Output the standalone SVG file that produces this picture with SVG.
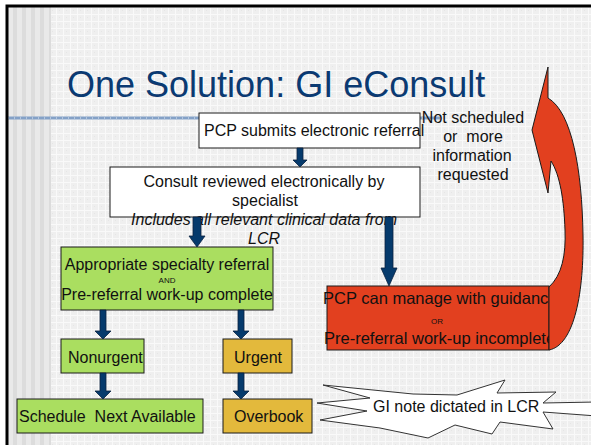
<svg xmlns="http://www.w3.org/2000/svg" width="591" height="445" viewBox="0 0 591 445">
<defs>
<pattern id="grid" width="7" height="7" patternUnits="userSpaceOnUse">
<rect width="7" height="7" fill="#efefef"/>
<rect x="0" y="0" width="7" height="1" fill="#f9f9f9"/>
<rect x="0" y="0" width="1" height="7" fill="#f9f9f9"/>
<rect x="3" y="3" width="1" height="1" fill="#e6e6e6"/>
</pattern>
<pattern id="stripes" width="9" height="10" patternUnits="userSpaceOnUse" x="8">
<rect width="9" height="10" fill="#e9e9e9"/>
<rect x="5" width="4" height="10" fill="#dcdcdc"/>
</pattern>
</defs>
<style>
.t{font-family:"Liberation Sans",Arial,sans-serif;font-size:16px;fill:#111}
.sm{font-family:"Liberation Sans",Arial,sans-serif;font-size:8px;fill:#111}
.box{stroke:#1a1a1a;stroke-width:1}
.white{fill:#ffffff}
.green{fill:#aade60}
.gold{fill:#e3b93c}
.red{fill:#e2401f}
.arr{fill:#053a6c;stroke:#0a2240;stroke-width:0.8}
</style>
<rect width="591" height="445" fill="#ffffff"/>
<rect x="8" y="6" width="583" height="439" fill="url(#grid)"/>
<rect x="8" y="6" width="43" height="439" fill="url(#stripes)"/>
<line x1="8" y1="118" x2="440" y2="118" stroke="#84a1c7" stroke-width="3"/>
<line x1="8" y1="118" x2="440" y2="118" stroke="#b3c6de" stroke-width="3" stroke-dasharray="1 5"/>
<path d="M7 445 V6 H591" fill="none" stroke="#000" stroke-width="3"/>
<text x="67" y="97" style="font-family:'Liberation Sans',Arial,sans-serif;font-size:36px;fill:#0b3a72">One Solution: GI eConsult</text>

<g id="n-submit">
<rect class="box white" x="199" y="113" width="221" height="35"/>
<text class="t" x="204" y="136">PCP submits electronic referral</text>
</g>
<g id="n-notsched">
<text class="t" text-anchor="middle" x="473" y="123">Not scheduled</text>
<text class="t" text-anchor="middle" x="473" y="142" xml:space="preserve">or  more</text>
<text class="t" text-anchor="middle" x="472" y="161">information</text>
<text class="t" text-anchor="middle" x="473" y="180">requested</text>
</g>
<g id="n-review">
<rect class="box white" x="110" y="167" width="310" height="50"/>
<text class="t" text-anchor="middle" x="264" y="187">Consult reviewed electronically by</text>
<text class="t" text-anchor="middle" x="265" y="206">specialist</text>
<text class="t" text-anchor="middle" x="264" y="225" font-style="italic">Includes all relevant clinical data from</text>
<text class="t" text-anchor="middle" x="264" y="244" font-style="italic">LCR</text>
</g>
<g id="n-appropriate">
<rect class="box green" x="61" y="247" width="212" height="63"/>
<text class="t" text-anchor="middle" x="167" y="270">Appropriate specialty referral</text>
<text class="sm" text-anchor="middle" x="167" y="283">AND</text>
<text class="t" text-anchor="middle" x="167" y="300">Pre-referral work-up complete</text>
</g>
<g id="n-manage">
<rect class="box red" x="327" y="286" width="222" height="64"/>
<text class="t" x="323" y="304" style="font-size:16.5px">PCP can manage with guidance</text>
<text class="sm" text-anchor="middle" x="437" y="324">OR</text>
<text class="t" x="324" y="344" style="font-size:16.5px">Pre-referral work-up incomplete</text>
</g>
<g id="n-nonurgent">
<rect class="box green" x="61" y="339" width="83" height="34"/>
<text class="t" x="68" y="363">Nonurgent</text>
</g>
<g id="n-urgent">
<rect class="box gold" x="223" y="339" width="69" height="34"/>
<text class="t" x="234" y="363">Urgent</text>
</g>
<g id="n-schedule">
<rect class="box green" x="17" y="399" width="186" height="34"/>
<text class="t" x="19" y="422" xml:space="preserve">Schedule  Next Available</text>
</g>
<g id="n-overbook">
<rect class="box gold" x="223" y="399" width="89" height="34"/>
<text class="t" x="234" y="422">Overbook</text>
</g>
<g id="n-ginote">
<polygon points="323,385 413,394 457,395 505,380 497,393 556,392 543,403 597,402 597,416 543,412 553,429 500,422 492,434 455,425 428,438 380,428 320,420 367,411 317,403 370,398" fill="#ffffff" stroke="#333" stroke-width="1"/>
<text class="t" x="373" y="412">GI note dictated in LCR</text>
</g>

<g id="connectors">
<path class="arr" d="M297 148 H303 V160 H307 L300 167 L293 160 H297 Z"/>
<path class="arr" d="M193 217 H201 V236 H205 L197 247 L189 236 H193 Z"/>
<path class="arr" d="M385 217 H393 V268 H397 L389 286 L381 268 H385 Z"/>
<path class="arr" d="M100 310 H106 V331 H111 L103 339 L95 331 H100 Z"/>
<path class="arr" d="M238 310 H244 V331 H249 L241 339 L233 331 H238 Z"/>
<path class="arr" d="M100 373 H106 V391 H111 L103 399 L95 391 H100 Z"/>
<path class="arr" d="M238 373 H244 V391 H249 L241 399 L233 391 H238 Z"/>
<path d="M548 67 L532 130 L548 193 L551 161 C560 175 564 200 565 230 C566 255 562 275 549 287 L549 350 C575 345 584 290 583 235 C582 170 572 112 548 98 Z" fill="#e2401f" stroke="#1a1a1a" stroke-width="1"/>
</g>
</svg>
